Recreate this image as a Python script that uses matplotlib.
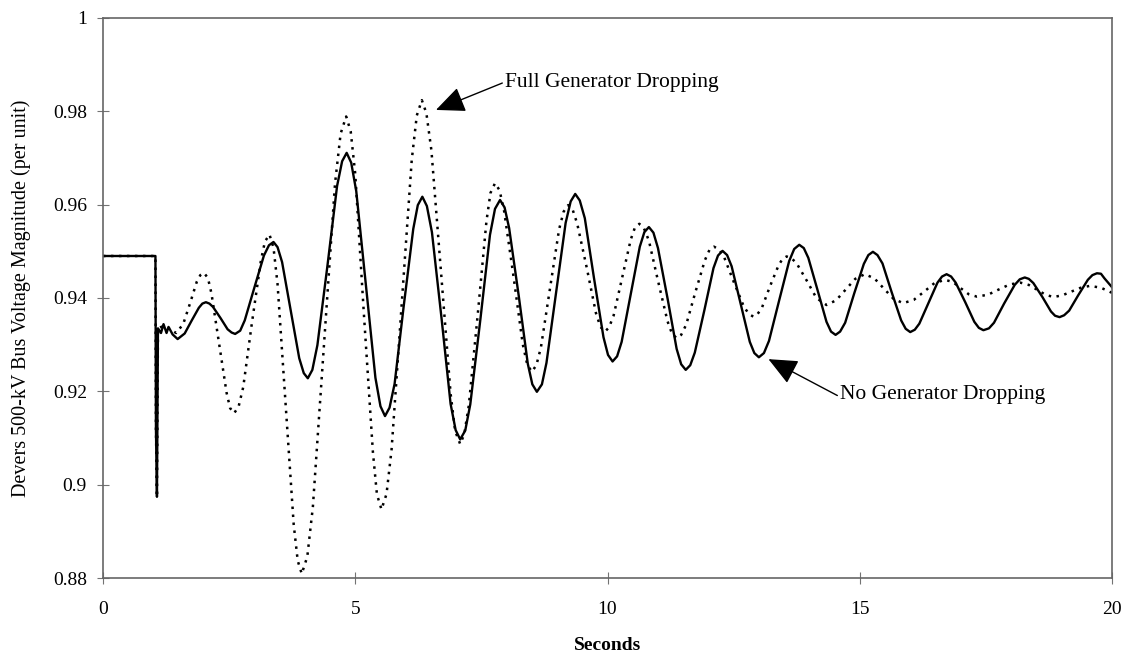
import matplotlib.pyplot as plt

# Devers 500-kV bus voltage after the disturbance, two cases
t_no = [0.0, 1.04, 1.05, 1.07, 1.09, 1.15, 1.2, 1.26, 1.3, 1.38, 1.48, 1.62, 1.76, 1.90, 1.97,
        2.04, 2.11, 2.18, 2.33, 2.47, 2.55, 2.62, 2.72, 2.81, 3.00, 3.19, 3.29, 3.38, 3.46,
        3.55, 3.72, 3.89, 3.98, 4.06, 4.15, 4.25, 4.45, 4.64, 4.74, 4.83, 4.92, 5.02, 5.21,
        5.40, 5.50, 5.59, 5.68, 5.78, 5.96, 6.15, 6.24, 6.33, 6.42, 6.52, 6.71, 6.89, 6.99,
        7.08, 7.18, 7.28, 7.48, 7.67, 7.77, 7.87, 7.96, 8.05, 8.24, 8.42, 8.51, 8.60, 8.70,
        8.79, 8.98, 9.17, 9.27, 9.36, 9.45, 9.55, 9.73, 9.92, 10.01, 10.10, 10.19, 10.28, 10.46,
        10.64, 10.73, 10.82, 10.91, 11.0, 11.19, 11.37, 11.46, 11.55, 11.64, 11.73, 11.92, 12.10,
        12.19, 12.28, 12.37, 12.46, 12.64, 12.82, 12.91, 13.0, 13.1, 13.2, 13.4, 13.6, 13.7,
        13.80, 13.89, 13.98, 14.16, 14.34, 14.43, 14.52, 14.61, 14.71, 14.89, 15.08, 15.17,
        15.26, 15.35, 15.45, 15.63, 15.82, 15.91, 16.0, 16.09, 16.18, 16.36, 16.54, 16.63,
        16.72, 16.81, 16.90, 17.09, 17.27, 17.36, 17.45, 17.56, 17.66, 17.86, 18.07, 18.17,
        18.27, 18.35, 18.44, 18.62, 18.79, 18.87, 18.96, 19.05, 19.15, 19.33, 19.52, 19.61,
        19.70, 19.78, 19.85, 20.0]
v_no = [0.949, 0.949, 0.912, 0.8974, 0.9335, 0.9325, 0.9344, 0.9325, 0.9338, 0.9322, 0.9312, 0.9324, 0.9352, 0.9379, 0.9388,
        0.9391, 0.9388, 0.9381, 0.9357, 0.9333, 0.9326, 0.9323, 0.933, 0.9352, 0.9422, 0.9491, 0.9513, 0.952, 0.9509,
        0.9477, 0.9374, 0.9271, 0.9239, 0.9228, 0.9246, 0.9299, 0.9470, 0.9640, 0.9693, 0.9711, 0.969, 0.9629, 0.9429,
        0.9229, 0.9168, 0.9147, 0.9165, 0.9216, 0.9382, 0.9548, 0.9599, 0.9617, 0.9597, 0.9541, 0.9357, 0.9173, 0.9117,
        0.9097, 0.9116, 0.9172, 0.9354, 0.9535, 0.9591, 0.961, 0.9594, 0.955, 0.9405, 0.9259, 0.9215, 0.9199, 0.9215,
        0.9261, 0.9411, 0.9561, 0.9607, 0.9623, 0.9609, 0.9571, 0.9444, 0.9316, 0.9278, 0.9264, 0.9275, 0.9306, 0.9408,
        0.951, 0.9541, 0.9552, 0.954, 0.9507, 0.9399, 0.9291, 0.9258, 0.9246, 0.9256, 0.9283, 0.9374, 0.9464,
        0.9491, 0.9501, 0.9492, 0.9468, 0.9387, 0.9306, 0.9282, 0.9273, 0.9282, 0.9308, 0.9394, 0.9479, 0.9505,
        0.9514, 0.9507, 0.9486, 0.9418, 0.9349, 0.9328, 0.9321, 0.9328, 0.9347, 0.941, 0.9473, 0.9492,
        0.9499, 0.9492, 0.9474, 0.9413, 0.9352, 0.9334, 0.9327, 0.9332, 0.9345, 0.9389, 0.9433, 0.9446,
        0.9451, 0.9446, 0.9433, 0.9391, 0.9349, 0.9336, 0.9331, 0.9335, 0.9347, 0.9388, 0.9428, 0.944,
        0.9444, 0.9441, 0.9432, 0.9402, 0.9371, 0.9362, 0.9359, 0.9363, 0.9373, 0.9406, 0.9439, 0.9449,
        0.9453, 0.9452, 0.9442, 0.9423]

t_full = [0.0, 1.04, 1.05, 1.07, 1.09, 1.2, 1.3, 1.45, 1.59, 1.73, 1.86, 1.93, 2.0, 2.08, 2.15,
          2.30, 2.45, 2.52, 2.60, 2.69, 2.78, 2.95, 3.13, 3.21, 3.30, 3.38, 3.46, 3.62, 3.78,
          3.86, 3.94, 4.05, 4.16, 4.38, 4.60, 4.71, 4.82, 4.91, 5.0, 5.17, 5.35, 5.43, 5.52,
          5.62, 5.72, 5.92, 6.12, 6.22, 6.32, 6.41, 6.51, 6.70, 6.89, 6.98, 7.08, 7.16, 7.25,
          7.43, 7.60, 7.68, 7.77, 7.86, 7.95, 8.14, 8.32, 8.41, 8.50, 8.59, 8.68, 8.86, 9.04,
          9.13, 9.22, 9.31, 9.40, 9.59, 9.77, 9.86, 9.95, 10.03, 10.12, 10.29, 10.46, 10.54,
          10.63, 10.72, 10.82, 11.0, 11.19, 11.28, 11.37, 11.46, 11.56, 11.74, 11.93, 12.02,
          12.11, 12.21, 12.31, 12.50, 12.70, 12.80, 12.89, 12.97, 13.06, 13.22, 13.39, 13.47,
          13.55, 13.65, 13.75, 13.95, 14.14, 14.34, 14.53, 14.72, 14.91, 15.10, 15.29, 15.48,
          15.67, 15.86, 16.07, 16.28, 16.48, 16.69, 16.85, 17.0, 17.16, 17.32, 17.54, 17.75,
          17.97, 18.18, 18.35, 18.51, 18.68, 18.84, 19.02, 19.2, 19.38, 19.56, 19.78, 20.0]
v_full = [0.949, 0.949, 0.912, 0.8974, 0.9335, 0.9340, 0.9335, 0.9325, 0.9344, 0.939, 0.9435, 0.9449, 0.9454, 0.9443, 0.941,
          0.9304, 0.9197, 0.9164, 0.9153, 0.9168, 0.9209, 0.9345, 0.948, 0.9521, 0.9536, 0.9508, 0.9430, 0.9173, 0.8915,
          0.8837, 0.8809, 0.8846, 0.8952, 0.9299, 0.9646, 0.9752, 0.9789, 0.9757, 0.9666, 0.9368, 0.907, 0.8979, 0.8947,
          0.898, 0.9075, 0.9386, 0.9696, 0.9791, 0.9824, 0.9796, 0.9716, 0.9456, 0.9195, 0.9115, 0.9087, 0.9108, 0.9169,
          0.9367, 0.9564, 0.9625, 0.9646, 0.9631, 0.9587, 0.9444, 0.9301, 0.9257, 0.9242, 0.9256, 0.9294, 0.9421, 0.9547,
          0.9585, 0.9599, 0.9589, 0.9559, 0.9464, 0.9368, 0.9338, 0.9328, 0.9337, 0.9362, 0.9444, 0.9525, 0.955,
          0.9559, 0.955, 0.9523, 0.9437, 0.935, 0.9323, 0.9314, 0.9321, 0.9343, 0.9412, 0.9481, 0.9503,
          0.951, 0.9504, 0.9488, 0.9435, 0.9382, 0.9366, 0.936, 0.9365, 0.9379, 0.9425, 0.947, 0.9484,
          0.9489, 0.9485, 0.9474, 0.9437, 0.94, 0.9385, 0.9395, 0.9418, 0.9441, 0.9451, 0.9442, 0.942,
          0.9398, 0.9389, 0.9396, 0.9414, 0.9432, 0.9439, 0.9434, 0.9421, 0.9408, 0.9403, 0.9407, 0.9418,
          0.9429, 0.9433, 0.9428, 0.9418, 0.9407, 0.9402, 0.9406, 0.9414, 0.9422, 0.9426, 0.9422, 0.9411]

x_ticks = [0, 5, 10, 15, 20]
y_ticks = [0.88, 0.9, 0.92, 0.94, 0.96, 0.98, 1.0]
y_tick_labels = ['0.88', '0.9', '0.92', '0.94', '0.96', '0.98', '1']

plt.rcParams['font.family'] = ['Liberation Serif', 'DejaVu Serif']

fig = plt.figure(figsize=(11.29, 6.59), dpi=100)
ax = fig.add_axes([0.0912, 0.1229, 0.8938, 0.8498])

ax.plot(t_full, v_full, color='black', lw=1.8, linestyle=(0, (1, 2.2)))
ax.plot(t_no, v_no, color='black', lw=1.7)

ax.set_xlim(0, 20)
ax.set_ylim(0.88, 1.0)
ax.set_xticks(x_ticks)
ax.set_yticks(y_ticks)
ax.set_yticklabels(y_tick_labels)
ax.tick_params(direction='inout', length=9, width=0.8, color='0.45',
               labelsize=14, pad=7)
ax.tick_params(axis='x', pad=12)

for sp in ax.spines.values():
    sp.set_color('0.4')
    sp.set_linewidth(1.2)

ax.set_xlabel('Seconds', fontsize=14, fontweight='bold', labelpad=14)
ax.set_ylabel('Devers 500-kV Bus Voltage Magnitude (per unit)', fontsize=14.5, labelpad=16)

arrow_kw = dict(arrowstyle='-|>,head_length=0.9,head_width=0.4', color='black',
                lw=1.0, mutation_scale=20, shrinkA=0, shrinkB=0)
ax.annotate('Full Generator Dropping', xy=(6.60, 0.9803), xytext=(7.97, 0.9861),
            ha='left', va='center', fontsize=15.5,
            arrowprops=dict(relpos=(0, 0.55), **arrow_kw))
ax.annotate('No Generator Dropping', xy=(13.19, 0.9269), xytext=(14.61, 0.9194),
            ha='left', va='center', fontsize=15.5,
            arrowprops=dict(relpos=(0, 0.35), **arrow_kw))

fig.savefig('out.png', dpi=100)
